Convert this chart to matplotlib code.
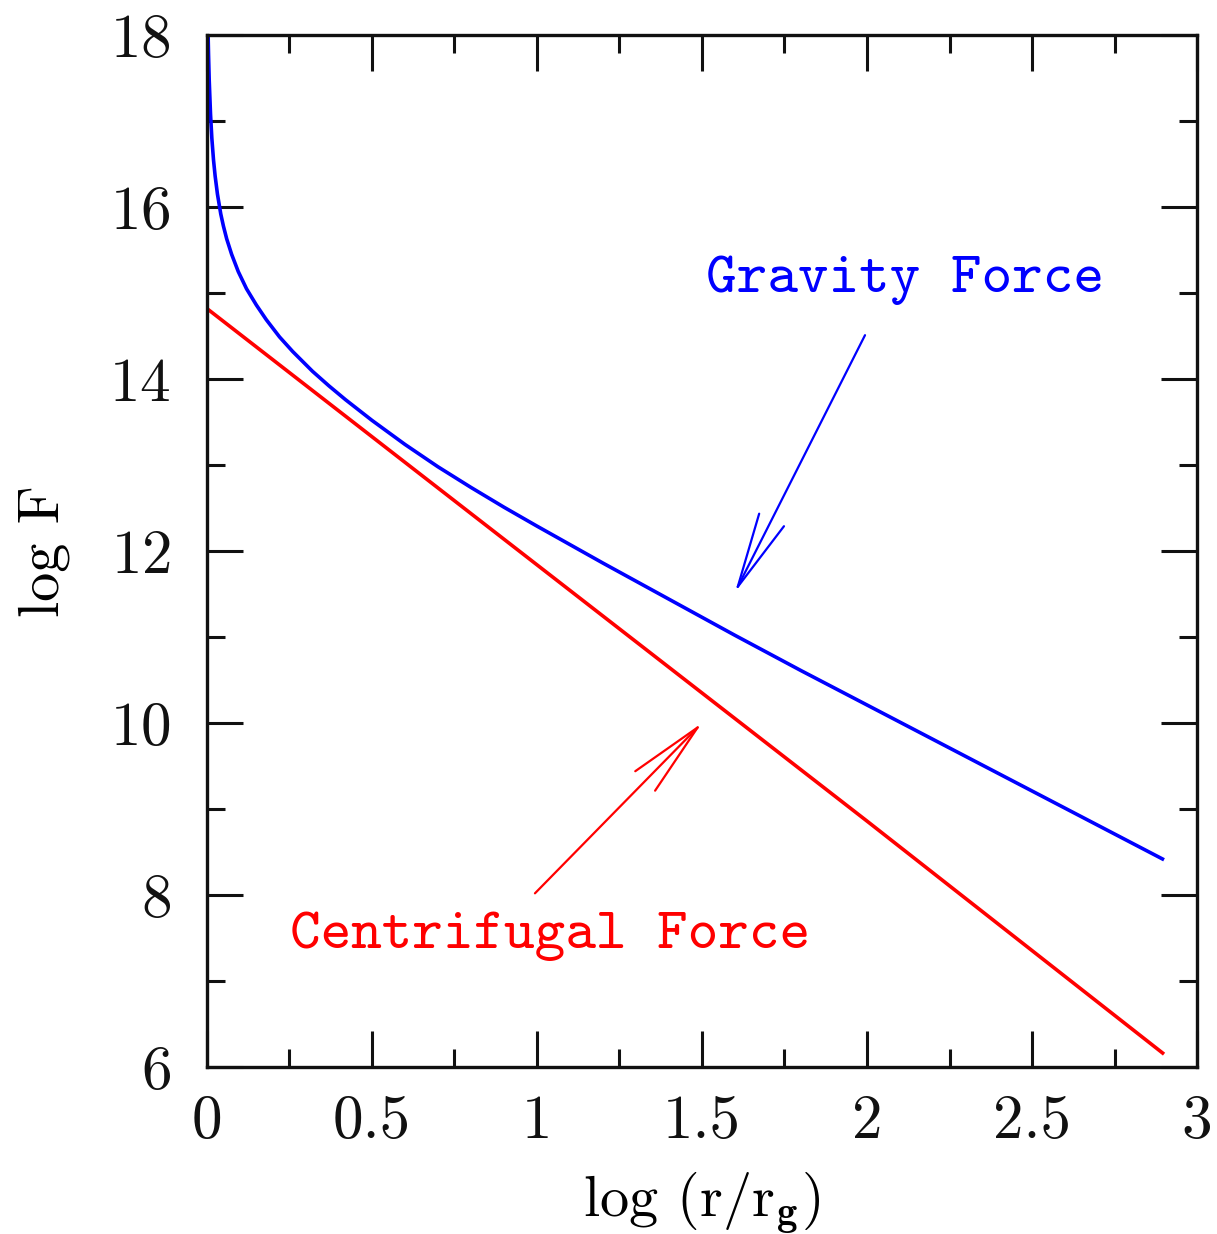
import matplotlib
matplotlib.use("Agg")
import matplotlib.pyplot as plt

# values
grav_x = [0.0037, 0.005, 0.007, 0.011, 0.015, 0.02, 0.025, 0.032, 0.042, 0.05,
          0.06, 0.075, 0.095, 0.12, 0.15, 0.18, 0.22, 0.26, 0.32, 0.37, 0.42,
          0.50, 0.60, 0.70, 0.80, 0.90, 1.00, 1.20, 1.40, 1.60, 1.80, 2.00,
          2.20, 2.40, 2.60, 2.80, 2.90]
grav_y = [18.0, 17.77, 17.48, 17.08, 16.8, 16.55, 16.36, 16.15, 15.92, 15.78,
          15.63, 15.45, 15.25, 15.05, 14.86, 14.69, 14.49, 14.32, 14.09, 13.92,
          13.76, 13.52, 13.24, 12.98, 12.74, 12.51, 12.29, 11.86, 11.44, 11.02,
          10.61, 10.21, 9.81, 9.41, 9.01, 8.61, 8.41]

cent_x = [0.0, 1.0, 2.0, 2.9]
cent_y = [14.82, 11.84, 8.86, 6.15]

grav_label = "Gravity Force"
cent_label = "Centrifugal Force"

plt.rcParams["mathtext.fontset"] = "cm"
plt.rcParams["axes.formatter.use_mathtext"] = True

fig = plt.figure(figsize=(12.17, 12.34), dpi=100)
ax = fig.add_axes([0.170, 0.1353, 0.8136, 0.8363])

ax.plot(grav_x, grav_y, color="#0000ff", lw=2.6, solid_capstyle="butt",
        solid_joinstyle="round")
ax.plot(cent_x, cent_y, color="#ff0000", lw=2.6, solid_capstyle="butt")

ax.set_xlim(0, 3)
ax.set_ylim(6, 18)
ax.set_xticks([0, 0.5, 1, 1.5, 2, 2.5, 3])
ax.set_xticklabels(["0", "0.5", "1", "1.5", "2", "2.5", "3"])
ax.set_xticks([0.25, 0.75, 1.25, 1.75, 2.25, 2.75], minor=True)
ax.set_yticks([6, 8, 10, 12, 14, 16, 18])
ax.set_yticks([7, 9, 11, 13, 15, 17], minor=True)

ax.tick_params(which="both", direction="in", top=True, right=True,
               width=2.2, colors="#111111")
ax.tick_params(which="major", length=26)
ax.tick_params(which="minor", length=13)
ax.tick_params(axis="x", which="major", pad=20)
ax.tick_params(axis="y", which="major", pad=26)
for lab in ax.get_xticklabels() + ax.get_yticklabels():
    lab.set_fontfamily("cmr10")
    lab.set_fontsize(44)
for sp in ax.spines.values():
    sp.set_linewidth(2.4)
    sp.set_color("#111111")

ax.set_xlabel(r"log (r/r$_\mathbf{g}$)", fontfamily="cmr10", fontsize=42,
              labelpad=14)
ax.set_ylabel("log F", fontfamily="cmr10", fontsize=42, labelpad=28)

ax.text(2.115, 15.01, grav_label, color="#0000ff", fontfamily="cmtt10",
        fontsize=42, ha="center", va="baseline")
ax.text(1.04, 7.38, cent_label, color="#ff0000", fontfamily="cmtt10",
        fontsize=42, ha="center", va="baseline")

arrow = dict(arrowstyle="->,head_length=5.4,head_width=1.0", lw=1.6,
             shrinkA=0, shrinkB=0, mutation_scale=10)
ax.annotate("", xy=(1.60, 11.52), xytext=(1.994, 14.51),
            arrowprops=dict(color="#0000ff", **arrow))
ax.annotate("", xy=(1.50, 10.0), xytext=(0.994, 8.02),
            arrowprops=dict(color="#ff0000", **arrow))

fig.savefig("out.png", dpi=100, facecolor="white")
